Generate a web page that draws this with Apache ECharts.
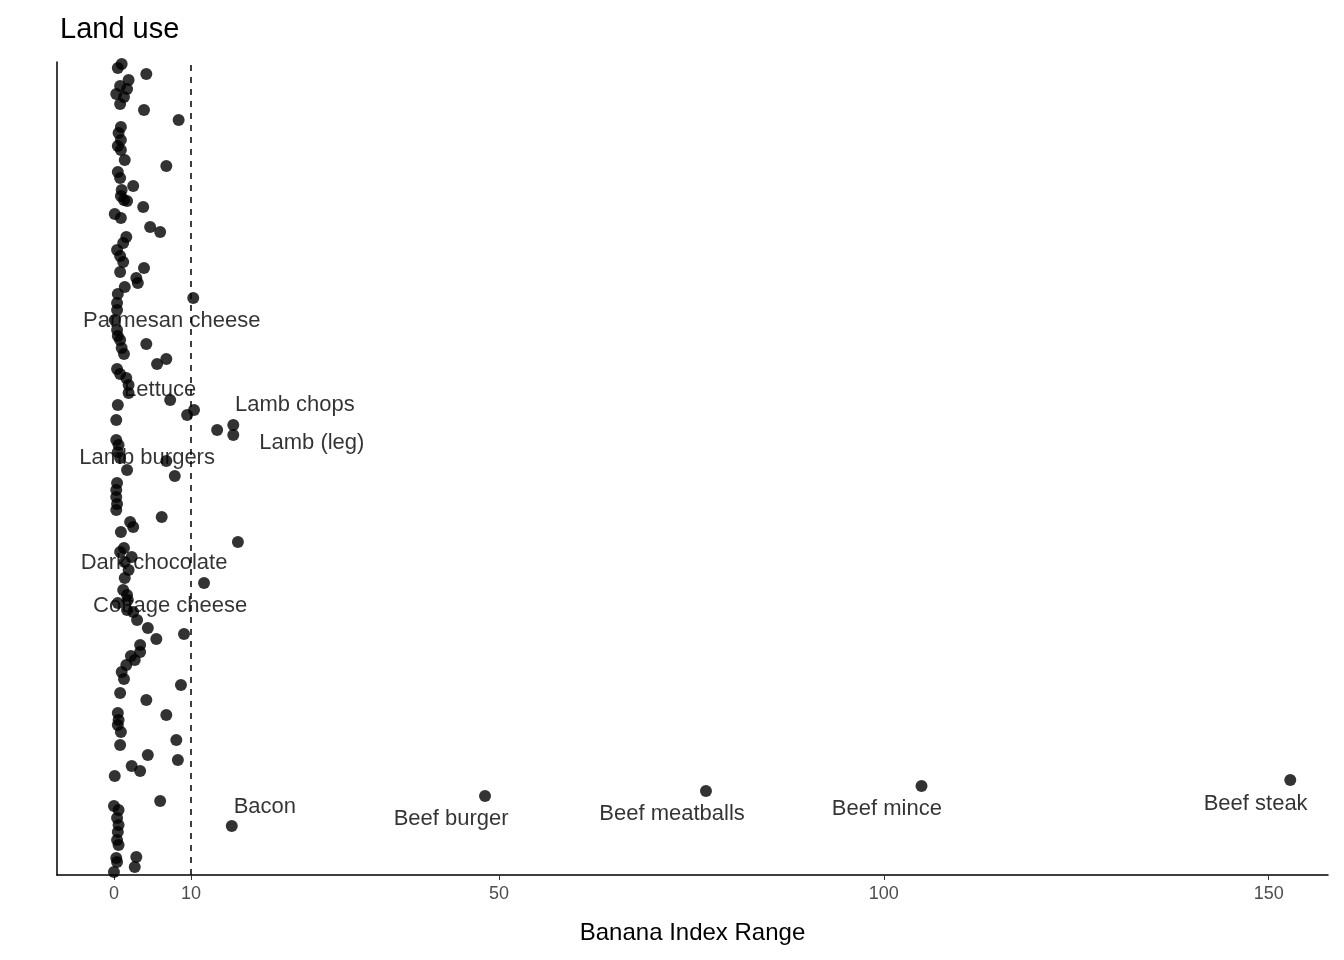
<!DOCTYPE html>
<html><head><meta charset="utf-8">
<script src="https://cdn.jsdelivr.net/npm/echarts@6/dist/echarts.min.js"></script>
<style>html,body{margin:0;padding:0;background:#fff}#c{width:1344px;height:960px}</style>
</head><body><div id="c"></div>
<script>
// Banana index range values (x) and jitter position (y, arbitrary units)
const bananaIndex = [1.0,0.5,4.2,1.9,0.8,1.7,0.3,1.3,0.8,3.9,8.4,0.9,0.6,0.9,0.5,0.9,1.4,6.8,0.5,0.8,2.5,1.0,0.9,1.3,1.7,3.8,0.1,0.9,4.7,6.0,1.6,1.2,0.4,0.8,1.2,3.9,0.8,2.9,3.1,1.4,0.5,10.3,0.4,0.4,0.1,0.4,0.5,0.8,4.2,1.0,1.3,6.8,5.6,0.4,0.8,1.6,1.9,1.9,7.3,0.5,10.4,9.5,0.3,15.5,13.4,15.5,0.3,0.6,0.5,0.8,6.8,1.7,7.9,0.4,0.3,0.3,0.4,0.3,6.2,2.1,2.5,0.9,16.1,1.3,0.8,2.3,1.4,1.9,1.4,11.7,1.2,1.7,1.8,0.5,1.7,2.5,3.0,4.4,9.1,5.5,3.4,2.7,3.4,2.2,1.6,1.0,1.3,8.7,0.8,4.2,0.5,6.8,0.6,0.5,0.9,8.1,0.8,4.4,8.3,2.3,3.4,0.1,6.0,0.0,0.6,0.4,0.6,15.3,0.5,0.4,0.6,2.9,0.3,0.4,2.7,0.0,48.2,76.9,104.9,152.8];
const jitter = [811,807,801,795,789,786,781,778,771,765,755,748,742,735,729,725,715,709,703,697,689,685,679,675,674,668,661,657,648,643,638,632,625,619,613,607,603,597,592,588,581,577,572,565,555,545,539,535,531,527,521,516,511,506,501,497,490,482,475,470,465,460,455,450,445,440,435,430,423,417,414,405,399,392,385,378,371,365,358,353,348,343,333,327,323,318,313,305,297,292,285,280,275,272,265,263,255,247,241,236,230,215,223,219,210,203,196,190,182,175,162,160,155,150,143,135,130,120,115,109,104,99,74,69,65,57,50,49,43,35,30,18,17,13,8,3,79,84,89,95];
const labelTexts = ["Parmesan cheese","Lettuce","Lamb chops","Lamb (leg)","Lamb burgers","Dark chocolate","Cottage cheese","Bacon","Beef burger","Beef meatballs","Beef mince","Beef steak"];
const labelX = [7.5,6.0,23.5,25.7,4.3,5.2,7.3,19.6,43.8,72.5,100.4,148.3];
const labelY = [554,485,470,432,417,312,269,68,56,61,66,71];
const tickValues = [0,10,50,100,150];
const threshold = 10;

const chart = echarts.init(document.getElementById('c'));
chart.setOption({
  animation:false,
  textStyle:{fontFamily:'Liberation Sans, Arial, sans-serif'},
  title:{text:'Land use',left:55,top:10,textStyle:{fontSize:29,fontWeight:'normal',color:'#000'}},
  grid:{left:57,right:16,top:62,bottom:85},
  xAxis:{type:'value',min:-7.4,max:157.7,
    name:'Banana Index Range',nameLocation:'middle',nameGap:46,
    nameTextStyle:{fontSize:24,color:'#000'},
    axisLine:{show:true,onZero:false,lineStyle:{color:'#000',width:1.5}},
    axisTick:{show:true,customValues:tickValues,length:5,lineStyle:{color:'#333'}},
    axisLabel:{customValues:tickValues,fontSize:18,color:'#4d4d4d',margin:10},
    splitLine:{show:false}},
  yAxis:{type:'value',min:0,max:813,
    axisLine:{show:true,onZero:false,lineStyle:{color:'#000',width:1.5}},
    axisTick:{show:false},axisLabel:{show:false},splitLine:{show:false}},
  series:[
    {type:'scatter',symbolSize:12,itemStyle:{color:'#000'},
     data:bananaIndex.map((v,i)=>[v,jitter[i]]),
     markLine:{silent:true,symbol:'none',label:{show:false},
       lineStyle:{color:'#000',type:[6,6],width:1.5},data:[{xAxis:threshold}]}},
    {type:'scatter',symbolSize:0,silent:true,
     data:labelTexts.map((t,i)=>({value:[labelX[i],labelY[i]],name:t})),
     label:{show:true,position:'inside',formatter:p=>p.name,fontSize:22,color:'#000'}}
  ]
});
</script></body></html>
